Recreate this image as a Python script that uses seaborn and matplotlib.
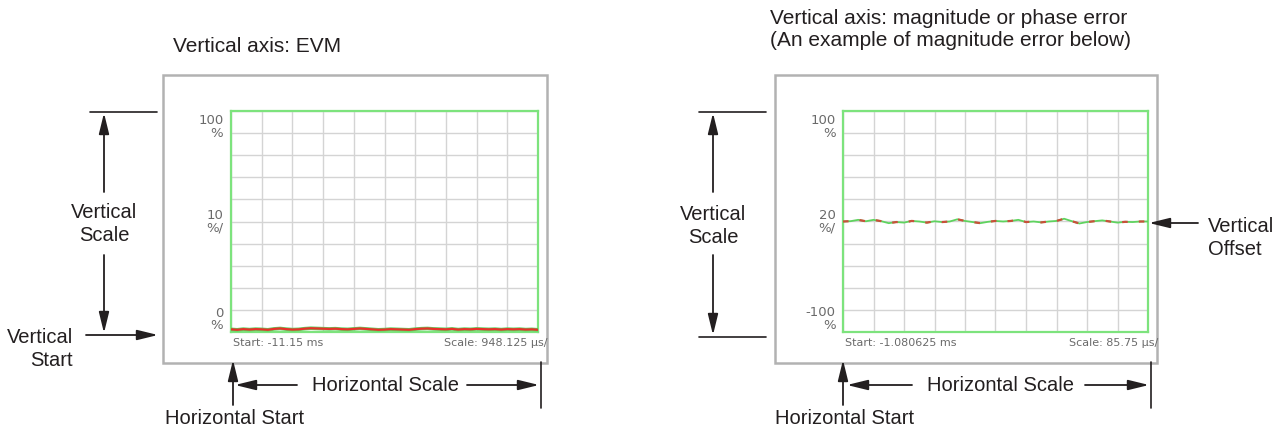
import matplotlib
matplotlib.use("Agg")
import numpy as np
import pandas as pd
import matplotlib.pyplot as plt
import seaborn as sns
from matplotlib.patches import Rectangle, FancyArrowPatch
from matplotlib.lines import Line2D

# ---------------- data ----------------
evm_start_ms = -11.15
evm_scale_ms = 0.948125          # per division
evm_values = [1.2, 1.0, 1.3, 1.1, 1.3, 1.2, 1.0, 1.4, 1.6, 1.3,
              1.1, 1.2, 1.5, 1.7, 1.6, 1.5, 1.4, 1.5, 1.3, 1.2,
              1.4, 1.6, 1.4, 1.2, 1.0, 1.1, 1.3, 1.2, 1.1, 1.0,
              1.3, 1.5, 1.6, 1.4, 1.3, 1.2, 1.4, 1.1, 1.3, 1.2,
              1.4, 1.3, 1.2, 1.3, 1.1, 1.3, 1.2, 1.3, 1.1, 1.2, 1.0]
evm_ylim = [0, 100]
evm_ytick_pos = [100, 50, 0]
evm_ytick_labels = ["100\n%", "10\n%/", "0\n%"]
evm_title = "Vertical axis: EVM"
evm_start_label = "Start: -11.15 ms"
evm_scale_label = "Scale: 948.125 µs/"

mag_start_ms = -1.080625
mag_scale_ms = 0.08575
mag_values = [0.0, 0.3, 1.5, 0.2, 1.5, 0.3, -1.5, -0.5, -1.0, 0.5,
              0.0, -1.0, 0.2, -0.5, 0.0, 2.0, 0.5, -0.5, -1.5, -0.3,
              0.5, 0.0, 0.5, 1.5, -0.5, 0.0, -0.8, 0.0, 0.5, 2.5,
              0.3, -1.8, -0.5, 0.3, 1.0, 0.0, -1.0, -0.3, -0.5, 0.0, 0.0]
mag_ylim = [-100, 100]
mag_ytick_pos = [100, 0, -100]
mag_ytick_labels = ["100\n%", "20\n%/", "-100\n%"]
mag_title = "Vertical axis: magnitude or phase error\n(An example of magnitude error below)"
mag_start_label = "Start: -1.080625 ms"
mag_scale_label = "Scale: 85.75 µs/"

n_div = 10

# ---------------- style ----------------
sns.set_theme(style="white")
W, H = 1284, 436
fig = plt.figure(figsize=(W / 100, H / 100), dpi=100)
fig.patch.set_facecolor("white")

ANN = ["Liberation Sans", "DejaVu Sans"]
INK = "#231f20"
GREEN = "#7de37d"
GRID = "#d4d4d4"
SCR = "#6a6a6a"
FS = 14.5


def P(x, y):
    return (x / W, 1 - y / H)


def arrow(x0, y0, x1, y1):
    fig.add_artist(FancyArrowPatch(P(x0, y0), P(x1, y1), transform=fig.transFigure,
                                   arrowstyle="-|>,head_length=0.9,head_width=0.22",
                                   mutation_scale=14, lw=1.3, color=INK,
                                   shrinkA=0, shrinkB=0))


def line(x0, y0, x1, y1, color=INK, lw=1.2):
    a, b = P(x0, y0), P(x1, y1)
    fig.add_artist(Line2D([a[0], b[0]], [a[1], b[1]], transform=fig.transFigure,
                          color=color, lw=lw))


def text(x, y, s, ha="center", va="center", size=FS, family=ANN, color=INK, **kw):
    fig.text(x / W, 1 - y / H, s, ha=ha, va=va, fontsize=size, family=family,
             color=color, **kw)


def screen(frame, ax_box, start, scale, values, ylim, tpos, tlabels, slabel, clabel, kind):
    fx0, fy0, fx1, fy1 = frame
    fig.add_artist(Rectangle(P(fx0, fy1), (fx1 - fx0) / W, (fy1 - fy0) / H,
                             transform=fig.transFigure, facecolor="white",
                             edgecolor="#b2b2b2", lw=1.8, zorder=0))
    ax0, ay0, ax1, ay1 = ax_box
    ax = fig.add_axes([ax0 / W, 1 - ay1 / H, (ax1 - ax0) / W, (ay1 - ay0) / H])
    ax.set_facecolor("white")
    x = [start + i * scale * n_div / (len(values) - 1) for i in range(len(values))]
    df = pd.DataFrame({"t": x, "v": values})
    if kind == "evm":
        sns.lineplot(data=df, x="t", y="v", ax=ax, color="#5fcf5f", lw=2.6, zorder=3)
        sns.lineplot(data=df, x="t", y="v", ax=ax, color="#e8302a", lw=1.6, zorder=4)
    else:
        sns.lineplot(data=df, x="t", y="v", ax=ax, color="#5fd35f", lw=1.3, zorder=3)
        sns.lineplot(data=df, x="t", y="v", ax=ax, color="#c8503a", lw=1.6, zorder=4)
        ax.lines[-1].set_dashes([2.5, 5])
    ax.set_xlim(start, start + n_div * scale)
    ax.set_ylim(*ylim)
    ax.set_xticks([start + i * scale for i in range(n_div + 1)])
    ax.set_yticks(np.linspace(ylim[0], ylim[1], n_div + 1))
    ax.tick_params(length=0, labelbottom=False, labelleft=False)
    ax.grid(True, color=GRID, lw=1.0)
    ax.set_xlabel("")
    ax.set_ylabel("")
    for s in ax.spines.values():
        s.set_color(GREEN)
        s.set_linewidth(1.6)
        s.set_visible(True)
    tr = ax.get_yaxis_transform()
    vas = ["top", "center", "bottom"]
    offs = [-0.015, 0, 0]
    for pos, lab, va, o in zip(tpos, tlabels, vas, offs):
        ax.text(-0.025, pos + o * (ylim[1] - ylim[0]), lab, transform=tr, ha="right",
                va=va, fontsize=9.5, family="DejaVu Sans", color=SCR, linespacing=0.95)
    text(ax0 + 2, 343, slabel, ha="left", size=8, family="DejaVu Sans", color=SCR)
    text(fx1 + 1, 343, clabel, ha="right", size=8, family="DejaVu Sans", color=SCR)
    return ax


# ---------------- left panel ----------------
screen((163, 75, 547, 363), (231, 111, 538, 332), evm_start_ms, evm_scale_ms,
       evm_values, evm_ylim, evm_ytick_pos, evm_ytick_labels,
       evm_start_label, evm_scale_label, "evm")
text(173, 47, evm_title, ha="left", size=15)

line(90, 112, 157, 112)
arrow(104, 192, 104, 113)
text(104, 224, "Vertical\nScale", linespacing=1.25)
arrow(104, 255, 104, 333)
text(73, 349, "Vertical\nStart", ha="right", linespacing=1.25)
arrow(86, 335, 158, 335)

arrow(233, 405, 233, 360)
text(235, 418, "Horizontal Start")
arrow(297, 385, 235, 385)
text(385, 385, "Horizontal Scale")
arrow(467, 385, 539, 385)
line(541, 362, 541, 408)

# ---------------- right panel ----------------
screen((775, 75, 1157, 363), (843, 111, 1148, 332), mag_start_ms, mag_scale_ms,
       mag_values, mag_ylim, mag_ytick_pos, mag_ytick_labels,
       mag_start_label, mag_scale_label, "mag")
text(770, 30, mag_title, ha="left", size=15, linespacing=1.2)

line(699, 112, 766, 112)
arrow(713, 192, 713, 113)
text(713, 226, "Vertical\nScale", linespacing=1.25)
arrow(713, 255, 713, 335)
line(699, 337, 766, 337)

arrow(1198, 223, 1149, 223)
text(1208, 238, "Vertical\nOffset", ha="left", linespacing=1.25)

arrow(843, 405, 843, 360)
text(845, 418, "Horizontal Start")
arrow(912, 385, 847, 385)
text(1001, 385, "Horizontal Scale")
arrow(1085, 385, 1149, 385)
line(1151, 362, 1151, 408)

fig.savefig("out.png", dpi=100, facecolor="white")
